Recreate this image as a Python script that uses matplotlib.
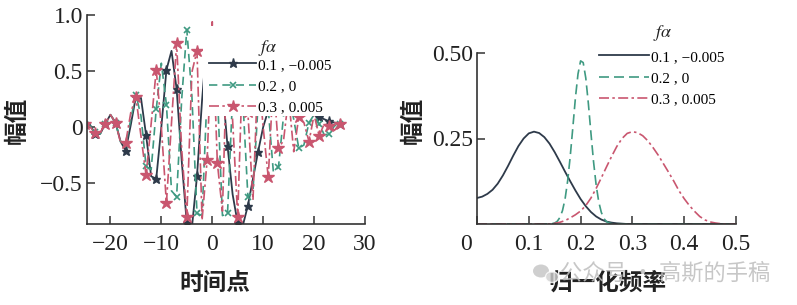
import matplotlib
matplotlib.use('Agg')
import matplotlib.pyplot as plt
import matplotlib.transforms as mtransforms
from matplotlib.patches import Rectangle, Ellipse

# ---------------- data ----------------
t = list(range(-25, 26))
# f=0.1, alpha=-0.005
s_dark = [0.03, 0.02, -0.06, -0.06, 0.03,
          0.11, 0.04, -0.13, -0.21, 0.02,
          0.27, 0.26, -0.07, -0.44, -0.46,
          0.00, 0.51, 0.68, 0.34, -0.30,
          -0.86, -0.90, -0.44, 0.24, 0.80,
          0.86,
          0.81, 0.36, -0.17, -0.60, -0.86,
          -0.88, -0.70, -0.46, -0.22, 0.00,
          0.15, 0.24, 0.28, 0.29, 0.27,
          0.23, 0.20, 0.17, 0.14, 0.11,
          0.09, 0.07, 0.05, 0.04, 0.03]
# f=0.2, alpha=0
s_green = [0.03, 0.01, -0.04, -0.06, 0.03,
           0.11, 0.04, -0.13, -0.16, 0.07,
           0.29, 0.10, -0.35, -0.38, 0.16,
           0.57, 0.20, -0.57, -0.62, 0.25,
           0.87, 0.28, -0.77, -0.79, 0.31,
           0.88,
           0.31, -0.79, -0.77, 0.28, 0.87,
           0.25, -0.62, -0.57, 0.20, 0.57,
           0.16, -0.40, -0.36, 0.10, 0.29,
           0.07, -0.19, -0.16, 0.04, 0.11,
           0.03, -0.07, -0.06, 0.01, 0.03]
# f=0.3, alpha=0.005
s_red = [0.03, 0.00, -0.05, -0.05, 0.03,
         0.11, 0.04, -0.14, -0.14, 0.13,
         0.27, -0.08, -0.43, 0.03, 0.51,
         0.00, -0.68, 0.04, 0.75, -0.20,
         -0.80, 0.49, 0.68, -0.83, -0.29,
         0.94,
         -0.32, -0.75, 0.84, 0.06, -0.80,
         0.63, 0.13, -0.65, 0.52, 0.00,
         -0.45, 0.44, -0.19, -0.12, 0.27,
         -0.22, 0.09, 0.04, -0.13, 0.11,
         -0.08, 0.03, 0.01, -0.03, 0.03]

freq = [0.00, 0.01, 0.02, 0.03, 0.04, 0.05, 0.06, 0.07, 0.08, 0.09,
        0.10, 0.11, 0.12, 0.13, 0.14, 0.15, 0.16, 0.17, 0.18, 0.19,
        0.20, 0.21, 0.22, 0.23, 0.24, 0.25, 0.26, 0.27, 0.28, 0.29,
        0.30, 0.31, 0.32, 0.33, 0.34, 0.35, 0.36, 0.37, 0.38, 0.39,
        0.40, 0.41, 0.42, 0.43, 0.44, 0.45, 0.46, 0.47, 0.48, 0.49, 0.50]
spec_dark = [0.076, 0.080, 0.088, 0.100, 0.118, 0.142, 0.170, 0.200, 0.228, 0.250,
             0.265, 0.270, 0.266, 0.254, 0.235, 0.210, 0.182, 0.153, 0.125, 0.098,
             0.073, 0.052, 0.035, 0.022, 0.013, 0.007, 0.004, 0.002, 0.001, 0.0,
             0.0, 0.0, 0.0, 0.0, 0.0, 0.0, 0.0, 0.0, 0.0, 0.0,
             0.0, 0.0, 0.0, 0.0, 0.0, 0.0, 0.0, 0.0, 0.0, 0.0, 0.0]
spec_red = [0.0, 0.0, 0.0, 0.0, 0.0, 0.0, 0.0, 0.0, 0.0, 0.0,
            0.0, 0.0, 0.0, 0.0, 0.0, 0.002, 0.005, 0.010, 0.018, 0.027,
            0.038, 0.054, 0.076, 0.104, 0.135, 0.167, 0.198, 0.227, 0.250, 0.265,
            0.270, 0.267, 0.258, 0.243, 0.223, 0.201, 0.176, 0.151, 0.125, 0.097,
            0.074, 0.054, 0.037, 0.022, 0.012, 0.006, 0.003, 0.001, 0.0, 0.0, 0.0]
freq_green = [0.00, 0.10,
              0.140, 0.145, 0.150, 0.155, 0.160, 0.165, 0.170, 0.175, 0.180,
              0.185, 0.190, 0.195, 0.200, 0.205, 0.210, 0.215, 0.220, 0.225,
              0.230, 0.235, 0.240, 0.245, 0.250, 0.255, 0.260,
              0.30, 0.40, 0.50]
spec_green = [0.0, 0.0,
              0.0004, 0.001, 0.003, 0.008, 0.019, 0.039, 0.073, 0.126, 0.198,
              0.282, 0.369, 0.439, 0.477, 0.472, 0.427, 0.352, 0.265, 0.182,
              0.114, 0.065, 0.034, 0.016, 0.007, 0.003, 0.001,
              0.0, 0.0, 0.0]

labels = ['0.1 , \u22120.005', '0.2 , 0', '0.3 , 0.005']

# ---------------- style ----------------
plt.rcParams['font.family'] = ['Liberation Serif', 'Noto Sans CJK SC']
plt.rcParams['mathtext.fontset'] = 'stix'

C_DARK = '#2e3a4a'
C_GREEN = '#3f9a82'
C_RED = '#c9566f'
C_AX = '#333333'

W, H = 797, 305
fig = plt.figure(figsize=(W / 100, H / 100), dpi=100)
fig.patch.set_facecolor('white')


def fx(x):
    return x / W


def fy(y):
    return 1 - y / H


ax1 = fig.add_axes([fx(87), fy(224), fx(365) - fx(87), fy(15) - fy(224)])
ax2 = fig.add_axes([fx(477), fy(224), fx(736) - fx(477), fy(53) - fy(224)])

for ax in (ax1, ax2):
    for sp in ('top', 'right'):
        ax.spines[sp].set_visible(False)
    for sp in ('left', 'bottom'):
        ax.spines[sp].set_color(C_AX)
        ax.spines[sp].set_linewidth(1.2)
    ax.tick_params(direction='in', length=6, width=1.1, color=C_AX,
                   labelsize=17, labelcolor='#222222')
    ax.tick_params(axis='x', pad=7)
    ax.tick_params(axis='y', pad=3)

# ---------------- left: time domain ----------------
l1, = ax1.plot(t, s_dark, color=C_DARK, lw=1.3, marker='*', ms=6.5,
               markevery=2, label=labels[0])
l2, = ax1.plot(t, s_green, color=C_GREEN, lw=1.2, ls=(0, (5, 3)), marker='x',
               ms=5, mew=1.2, markevery=2, label=labels[1])
l3, = ax1.plot(t, s_red, color=C_RED, lw=1.2, ls=(0, (6, 2, 1.5, 2)), marker='*',
               ms=9, markevery=2, label=labels[2])
ax1.set_xlim(-24.6, 30)
ax1.set_ylim(-0.865, 1.0)
ax1.set_xticks([-20, -10, 0, 10, 20, 30])
ax1.set_xticklabels(['\u221220', '\u221210', '0', '10', '20', '30'])
ax1.set_yticks([-0.5, 0, 0.5, 1.0])
ax1.set_yticklabels(['\u22120.5', '0', '0.5', '1.0'])

# white area behind the legend (covers lines)
ax1.add_patch(Rectangle((-1.8, 0.10), 32.0, 0.80, facecolor='white',
                        edgecolor='none', zorder=3))

leg1 = ax1.legend(handles=[l1, l2, l3], loc='upper left',
                  bbox_to_anchor=(fx(209), fy(58)), bbox_transform=fig.transFigure,
                  frameon=False, borderpad=0, borderaxespad=0, fontsize=11,
                  handlelength=3.1, handletextpad=0.1, labelspacing=0.5,
                  numpoints=1)
leg1.set_zorder(5)
fig.text(fx(268), fy(48), r'$f\alpha$', fontsize=13, ha='center', va='center',
         color='#222222')

ax1.set_xlabel('时间点', family=['Noto Sans CJK SC'], fontweight='bold',
               fontsize=17, va='center', color='#222222')
ax1.xaxis.set_label_coords((215 - 87) / 278, (224 - 283) / 209)
ax1.set_ylabel('幅值', family=['Noto Sans CJK SC'], fontweight='bold',
               fontsize=17, va='center', color='#222222')
ax1.yaxis.set_label_coords((17 - 87) / 278, (224 - 120) / 209)

# ---------------- right: spectrum ----------------
m1, = ax2.plot(freq, spec_dark, color=C_DARK, lw=1.3, label=labels[0])
m2, = ax2.plot(freq_green, spec_green, color=C_GREEN, lw=1.2, ls=(0, (6, 3)),
               label=labels[1])
m3, = ax2.plot(freq, spec_red, color=C_RED, lw=1.2, ls=(0, (6, 2, 1.5, 2)),
               label=labels[2])
ax2.set_xlim(0, 0.5)
ax2.set_ylim(0, 0.5)
ax2.set_xticks([0, 0.1, 0.2, 0.3, 0.4, 0.5])
ax2.set_xticklabels(['0', '0.1', '0.2', '0.3', '0.4', '0.5'])
ax2.set_yticks([0.25, 0.5])
ax2.set_yticklabels(['0.25', '0.50'])
# the "0" label sits a little left of the origin in the reference
lab0 = ax2.get_xticklabels()[0]
lab0.set_transform(lab0.get_transform() +
                   mtransforms.ScaledTranslation(-11 / 100, 0, fig.dpi_scale_trans))

leg2 = ax2.legend(handles=[m1, m2, m3], loc='upper left',
                  bbox_to_anchor=(fx(599), fy(50)), bbox_transform=fig.transFigure,
                  frameon=False, borderpad=0, borderaxespad=0, fontsize=11,
                  handlelength=3.3, handletextpad=0.1, labelspacing=0.5)
fig.text(fx(663), fy(33), r'$f\alpha$', fontsize=13, ha='center', va='center',
         color='#222222')

ax2.set_xlabel('归一化频率', family=['Noto Sans CJK SC'], fontweight='bold',
               fontsize=17, va='center', color='#222222')
ax2.xaxis.set_label_coords((607 - 477) / 259, (224 - 283) / 171)
ax2.set_ylabel('幅值', family=['Noto Sans CJK SC'], fontweight='bold',
               fontsize=17, va='center', color='#222222')
ax2.yaxis.set_label_coords((413 - 477) / 259, (224 - 120) / 171)

# ---------------- watermark ----------------
fig.patches.append(Ellipse((fx(541), fy(271)), 16 / W, 13 / H,
                           transform=fig.transFigure, facecolor='#c4c4c4',
                           edgecolor='none', alpha=0.8))
fig.patches.append(Ellipse((fx(552), fy(277)), 13 / W, 11 / H,
                           transform=fig.transFigure, facecolor='#d0d0d0',
                           edgecolor='white', lw=1, alpha=0.8))
fig.text(fx(770), fy(273), '公众号 · 高斯的手稿', family=['Noto Sans CJK SC'],
         fontsize=16, ha='right', va='center', color='#bdbdbd', alpha=0.85,
         zorder=0)

fig.savefig('out.png', dpi=100, facecolor='white')
